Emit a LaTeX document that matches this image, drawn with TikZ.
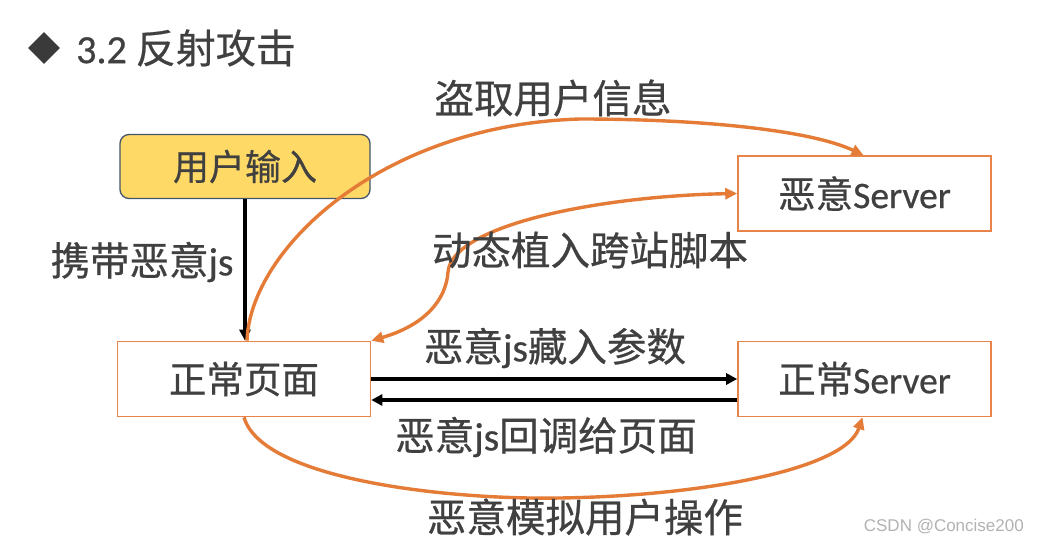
\documentclass[tikz,border=0pt]{standalone}
\usepackage{fontspec}
\setmainfont{Noto Sans CJK SC}[FakeBold=0.6]
\newfontfamily\lat{Carlito}[FakeBold=0.6]
\newfontfamily\wm{Liberation Sans}
\usetikzlibrary{arrows.meta,shapes.geometric}
\definecolor{txt}{HTML}{404040}
\definecolor{org}{HTML}{E47B36}
\definecolor{orgbox}{HTML}{E8844A}
\definecolor{gold}{HTML}{FFD966}
\definecolor{slate}{HTML}{44546A}
\begin{document}
\begin{tikzpicture}[x=1pt,y=-1pt,
 box/.style={draw=orgbox, line width=1.6pt, minimum width=253pt, minimum height=75pt, text=txt, font=\fontsize{37.5}{42}\selectfont, inner sep=0pt},
 ubox/.style={draw=slate, line width=1.3pt, fill=gold, rounded corners=9pt, minimum width=250pt, minimum height=64pt, text=txt, font=\fontsize{36}{40}\selectfont, inner sep=0pt},
 lbl/.style={text=txt, font=\fontsize{39.5}{44}\selectfont, inner sep=0pt},
 blk/.style={line width=3.2pt, -{Triangle[length=11pt,width=11pt]}},
 oarr/.style={draw=org, line width=3.4pt, -{Triangle[length=12pt,width=11pt]}},
 obi/.style={draw=org, line width=3.4pt, {Triangle[length=12pt,width=11pt]}-{Triangle[length=12pt,width=11pt]}},
]
\path[use as bounding box, fill=white] (0,0) rectangle (1038,545);
% title
\node[diamond, fill=txt!90!black, minimum size=32pt, inner sep=0pt] (dia) at (44,48) {};
\node[anchor=west, text=txt, font=\fontsize{40}{44}\selectfont, inner sep=0pt] (title) at (76,48) {{\lat 3.2} 反射攻击};
% boxes
\node[ubox] (user) at (245,166.5) {用户输入};
\node[box] (page) at (244,379) {正常页面};
\node[box] (mal) at (864.5,193.5) {恶意{\lat Server}};
\node[box] (ns) at (864.5,379) {正常{\lat Server}};
% black arrows
\draw[blk] (user.south) -- (user.south |- page.north);
\draw[blk] (page.east) -- (page.east -| ns.west);
\draw[blk] ([yshift=-21pt]ns.west) -- ([yshift=-21pt]page.east);
% orange curves
\draw[oarr] ([xshift=3pt]page.north) .. controls (250,250) and (380,125) .. (580,119) .. controls (700,119) and (810,130) .. ([xshift=-1pt]mal.north);
\draw[obi] (page.north east) .. controls (425,325) and (446,300) .. (448,272) .. controls (452,225) and (600,196) .. (mal.west);
\draw[oarr] (page.south) .. controls (262,480) and (450,500) .. (560,498) .. controls (700,496) and (845,470) .. ([xshift=-2pt]ns.south);
% labels
\node[lbl] (l1) at (142,262) {携带恶意{\lat js}};
\node[lbl] (l2) at (553,98) {盗取用户信息};
\node[lbl] (l3) at (590,250) {动态植入跨站脚本};
\node[lbl] (l4) at (555,348) {恶意{\lat js}藏入参数};
\node[lbl] (l5) at (546,437) {恶意{\lat js}回调给页面};
\node[lbl] (l6) at (585,517) {恶意模拟用户操作};
\node[anchor=east, text=gray!60, font=\wm\fontsize{17}{20}\selectfont, inner sep=0pt] (wm) at (1024,527) {CSDN @Concise200};
\end{tikzpicture}
\end{document}
